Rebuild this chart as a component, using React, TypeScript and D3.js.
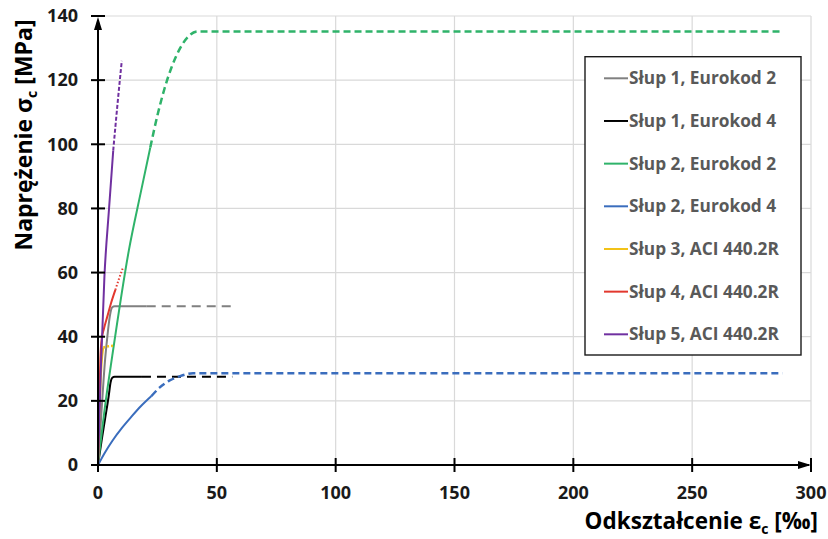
import React from 'react'
import * as d3 from 'd3'

// tick values
const strainTicks = [0, 50, 100, 150, 200, 250, 300]
const stressTicks = [0, 20, 40, 60, 80, 100, 120, 140]

const seriesNames = [
  'Słup 1, Eurokod 2',
  'Słup 1, Eurokod 4',
  'Słup 2, Eurokod 2',
  'Słup 2, Eurokod 4',
  'Słup 3, ACI 440.2R',
  'Słup 4, ACI 440.2R',
  'Słup 5, ACI 440.2R',
]

// [strain ‰, stress MPa] - solid part and extension (dashed / dotted)
const slup1EC2 = [[0, 0], [1.5, 17], [3, 33], [4, 40.5], [5, 46.5], [6, 49.2], [7, 49.5], [20.5, 49.5]]
const slup1EC2Ext = [[20.5, 49.5], [57, 49.5]]
const slup1EC4 = [[0, 0], [1.5, 7.5], [3, 14.5], [4.5, 21.5], [5.3, 25.8], [6, 27.2], [7, 27.5], [18.5, 27.5]]
const slup1EC4Ext = [[18.5, 27.5], [56.5, 27.5]]
const slup2EC2 = [[0, 0], [3, 18.5], [6, 34], [13, 67], [18, 85], [22, 99]]
const slup2EC2Ext = [[22, 99], [25, 109], [28, 117.4], [31, 124.1], [34.5, 129.9], [38, 133.6], [42, 135.2], [288, 135.2]]
const slup2EC4 = [[0, 0], [3, 4], [6, 7.5], [10, 11.5], [14, 15], [18, 18.3], [22.5, 21.5]]
const slup2EC4Ext = [[22.5, 21.5], [26, 24.2], [30, 26.3], [34.5, 27.7], [40, 28.6], [288, 28.6]]
const slup3ACI = [[0, 0], [0.7, 18], [1.5, 31.5], [2.2, 36.6]]
const slup3ACIExt = [[2.2, 36.6], [4.2, 37], [6.4, 37.2]]
const slup4ACI = [[0, 0], [0.5, 18], [1, 33], [1.5, 39], [2.5, 42.5], [4, 46.5], [5.5, 50.5], [7.3, 54.6]]
const slup4ACIExt = [[7.3, 54.6], [8.8, 58], [10.4, 61.3]]
const slup5ACI = [[0, 0], [1.2, 30], [2.7, 58.7], [4.6, 79.5], [6.4, 98]]
const slup5ACIExt = [[6.4, 98], [8.2, 112.5], [10, 126]]

const solidParts = [slup1EC2, slup1EC4, slup2EC2, slup2EC4, slup3ACI, slup4ACI, slup5ACI]
const extParts = [slup1EC2Ext, slup1EC4Ext, slup2EC2Ext, slup2EC4Ext, slup3ACIExt, slup4ACIExt, slup5ACIExt]

const colors = ['#808080', '#000000', '#2fb36a', '#3a6dbd', '#f2c218', '#e2382e', '#7030a0']
const extDash = ['9,6', '9,6', '7,4', '7,4', '2,2', '1.5,2', '4,2']

const App = () => {
  const x = d3.scaleLinear().domain([0, 300]).range([98, 811])
  const y = d3.scaleLinear().domain([0, 140]).range([465, 16])

  const line = d3.line<number[]>()
    .x(d => x(d[0]))
    .y(d => y(d[1]))
    .curve(d3.curveMonotoneX)

  const font = '"Open Sans", Lato, sans-serif'
  const legendY = (i: number) => 78.3 + i * 42.67

  return (
    <svg width={828} height={539} style={{ position: 'absolute', left: 0, top: 0, background: '#fff' }}>
      {/* grid */}
      {strainTicks.filter(t => t > 0).map(t => (
        <line key={'gx' + t} x1={x(t)} x2={x(t)} y1={y(0)} y2={y(140)} stroke="#d9d9d9" strokeWidth={1.2} />
      ))}
      {stressTicks.filter(t => t > 0).map(t => (
        <line key={'gy' + t} x1={x(0)} x2={x(300)} y1={y(t)} y2={y(t)} stroke="#d9d9d9" strokeWidth={1.2} />
      ))}

      {/* curves */}
      {solidParts.map((d, i) => (
        <path key={'s' + i} d={line(d as any) || ''} fill="none" stroke={colors[i]} strokeWidth={2} />
      ))}
      {extParts.map((d, i) => (
        <path key={'e' + i} d={line(d as any) || ''} fill="none" stroke={colors[i]}
          strokeWidth={i === 2 || i === 3 || i === 4 ? 2.5 : 2} strokeDasharray={extDash[i]} />
      ))}

      {/* axes */}
      <line x1={x(0)} x2={x(0)} y1={y(0)} y2={y(140) + 4} stroke="#000" strokeWidth={2} />
      <path d={`M${x(0)},${y(140) + 1} l-4,13 l8,0 z`} fill="#000" />
      <line x1={x(0)} x2={x(300) - 2} y1={y(0)} y2={y(0)} stroke="#000" strokeWidth={2} />
      <path d={`M${x(300)},${y(0)} l-13,-4 l0,8 z`} fill="#000" />
      {stressTicks.map(t => (
        <line key={'ty' + t} x1={x(0) - 7} x2={x(0) + 7} y1={y(t)} y2={y(t)} stroke="#000" strokeWidth={2} />
      ))}
      {strainTicks.map(t => (
        <line key={'tx' + t} x1={x(t)} x2={x(t)} y1={y(0) - 7} y2={y(0) + 7} stroke="#000" strokeWidth={2} />
      ))}

      {/* tick labels */}
      {stressTicks.map(t => (
        <text key={'ly' + t} x={78} y={y(t)} dy="0.35em" textAnchor="end" fontFamily={font}
          fontWeight={700} fontSize={18} fill="#1a1a1a">{t}</text>
      ))}
      {strainTicks.map(t => (
        <text key={'lx' + t} x={x(t)} y={493} dy="0.35em" textAnchor="middle" fontFamily={font}
          fontWeight={700} fontSize={18} fill="#1a1a1a">{t}</text>
      ))}

      {/* axis titles */}
      <text transform="translate(32,135) rotate(-90)" textAnchor="middle" fontFamily={font}
        fontWeight={700} fontSize={23} fill="#000">
        Naprężenie σ<tspan fontSize={14} dy={5}>c</tspan><tspan dy={-5}> [MPa]</tspan>
      </text>
      <text x={818} y={529} textAnchor="end" fontFamily={font} fontWeight={700} fontSize={22.5} fill="#000">
        Odkształcenie ε<tspan fontSize={14} dy={5}>c</tspan><tspan dy={-5}> [‰]</tspan>
      </text>

      {/* legend */}
      <rect x={585} y={56.7} width={216} height={298.3} fill="#fff" stroke="#1a1a1a" strokeWidth={1.4} />
      {seriesNames.map((name, i) => (
        <g key={'lg' + i}>
          <line x1={604} x2={628} y1={legendY(i)} y2={legendY(i)} stroke={colors[i]} strokeWidth={2} />
          <text x={629} y={legendY(i)} dy="0.35em" fontFamily={font} fontWeight={700} fontSize={17.3}
            fill="#595959">{name}</text>
        </g>
      ))}
    </svg>
  )
}

export default App
